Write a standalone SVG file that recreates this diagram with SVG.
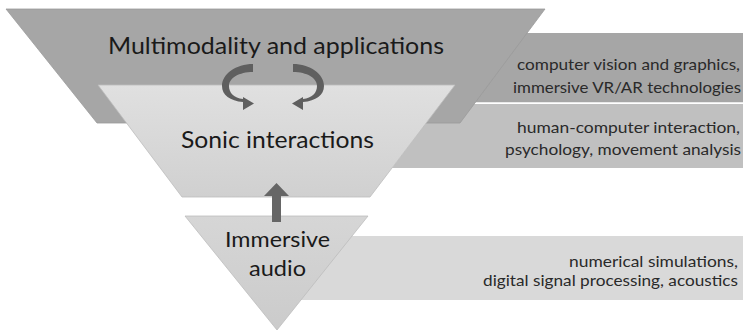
<svg xmlns="http://www.w3.org/2000/svg" width="743" height="332" viewBox="0 0 743 332">
<defs>
<linearGradient id="gLight" x1="0" y1="0" x2="0" y2="1">
<stop offset="0" stop-color="#e0e0e0"/><stop offset="1" stop-color="#d0d0d0"/>
</linearGradient>
<linearGradient id="gBottom" x1="0" y1="0" x2="0" y2="1">
<stop offset="0" stop-color="#d6d6d6"/><stop offset="1" stop-color="#cbcbcb"/>
</linearGradient>
</defs>
<style>
.big{font-family:Lato,"Open Sans",sans-serif;fill:#1a1a1a;text-anchor:middle}
.side{font-family:Lato,"Open Sans",sans-serif;font-size:16px;fill:#2a2a2a;text-anchor:end}
.arr{fill:#5f5f5f}
</style>
<g id="bands">
<polygon points="440,104 743,104 743,168 392,168" fill="#c0c0c0"/>
<polygon points="345,236 743,236 743,300 295,300" fill="#d9d9d9"/>
</g>
<g id="multimodality">
<polygon points="500,33 743,33 743,102.3 475,102.3" fill="#a6a6a6"/>
<polygon points="6,9 545,9 460,123 97,123" fill="#a6a6a6" stroke="#9a9a9a" stroke-width="0.8"/>
<text class="big" x="276" y="54" font-size="23" textLength="336" lengthAdjust="spacingAndGlyphs">Multimodality and applications</text>
<text class="side" x="740" y="70" textLength="223" lengthAdjust="spacingAndGlyphs">computer vision and graphics,</text>
<text class="side" x="741" y="93" textLength="228" lengthAdjust="spacingAndGlyphs">immersive VR/AR technologies</text>
</g>
<g id="sonic">
<polygon points="98,85 455,85 370,197 182,197" fill="url(#gLight)" stroke="#bdbdbd" stroke-width="0.8"/>
<text class="big" x="277.5" y="148" font-size="23" textLength="193" lengthAdjust="spacingAndGlyphs">Sonic interactions</text>
<text class="side" x="740" y="133" textLength="223" lengthAdjust="spacingAndGlyphs">human-computer interaction,</text>
<text class="side" x="741" y="155" textLength="236" lengthAdjust="spacingAndGlyphs">psychology, movement analysis</text>
</g>
<g id="audio">
<polygon points="185,216 368,216 277,330" fill="url(#gBottom)" stroke="#bdbdbd" stroke-width="0.8"/>
<text class="big" x="277.5" y="247" font-size="22" textLength="105" lengthAdjust="spacingAndGlyphs">Immersive</text>
<text class="big" x="277.5" y="276" font-size="22" textLength="57" lengthAdjust="spacingAndGlyphs">audio</text>
<text class="side" x="738" y="267" textLength="169" lengthAdjust="spacingAndGlyphs">numerical simulations,</text>
<text class="side" x="738" y="286" textLength="255" lengthAdjust="spacingAndGlyphs">digital signal processing, acoustics</text>
</g>
<g id="connectors">
<path class="arr" d="M253,64 C236,64 222,74 222,86 C222,95 230,101 243,102 L243,110 L254,103.5 L243,97 L243,99 C234,98 229,93 229,86 C229,78 239,72 253,72 Z"/>
<path class="arr" d="M293,64 C310,64 324,74 324,86 C324,95 316,101 303,102 L303,110 L292,103.5 L303,97 L303,99 C312,98 317,93 317,86 C317,78 307,72 293,72 Z"/>
<path fill="#666666" d="M272,222 L272,196 L264,196 L276.5,183 L289,196 L281,196 L281,222 Z"/>
</g>
</svg>
